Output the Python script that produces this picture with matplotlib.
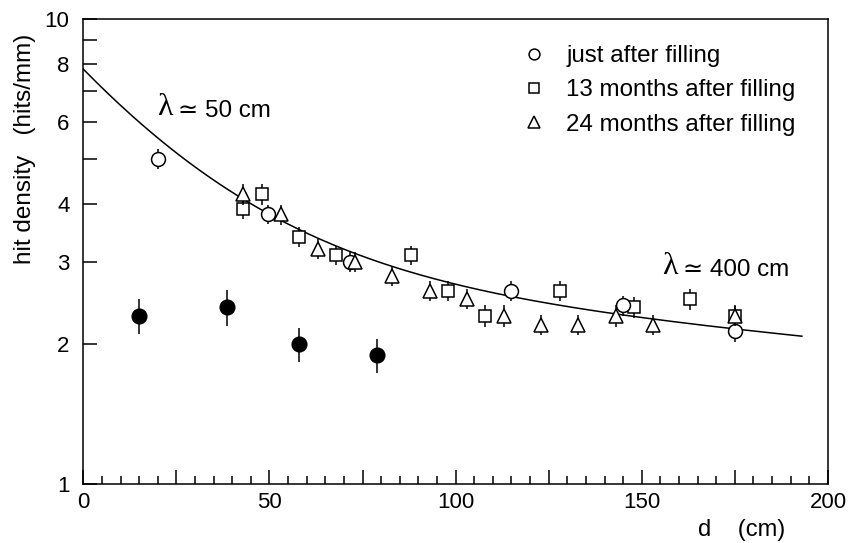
import numpy as np
import matplotlib
matplotlib.use("Agg")
import matplotlib.pyplot as plt
from matplotlib.ticker import FixedLocator, MultipleLocator, FixedFormatter, FuncFormatter

plt.rcParams['font.family'] = ['Liberation Sans', 'DejaVu Sans']

# --- data ---
# just after filling
x_fill0 = [20, 49.5, 71.5, 115, 145, 175]
y_fill0 = [5.0, 3.8, 3.0, 2.6, 2.42, 2.13]
e_fill0 = [0.25, 0.18, 0.15, 0.13, 0.12, 0.11]

# 13 months after filling
x_fill13 = [43, 48, 58, 68, 88, 98, 108, 128, 148, 163, 175]
y_fill13 = [3.9, 4.2, 3.4, 3.1, 3.1, 2.6, 2.3, 2.6, 2.4, 2.5, 2.3]
e_fill13 = [0.19, 0.21, 0.17, 0.15, 0.15, 0.13, 0.12, 0.13, 0.12, 0.13, 0.12]

# 24 months after filling
x_fill24 = [43, 53, 63, 73, 83, 93, 103, 113, 123, 133, 143, 153, 175]
y_fill24 = [4.2, 3.8, 3.2, 3.0, 2.8, 2.6, 2.5, 2.3, 2.2, 2.2, 2.3, 2.2, 2.3]
e_fill24 = [0.22, 0.19, 0.16, 0.15, 0.14, 0.13, 0.12, 0.12, 0.11, 0.11, 0.12, 0.11, 0.11]

# filled points
x_dark = [15, 38.7, 58, 78.8]
y_dark = [2.3, 2.4, 2.0, 1.89]
e_dark = [0.2, 0.21, 0.17, 0.16]

# double exponential fit: A*exp(-d/l1) + B*exp(-d/l2)
fit_A, fit_l1 = 4.96, 35.0
fit_B, fit_l2 = 2.84, 600.0

fig = plt.figure(figsize=(8.49, 5.43), dpi=100)
ax = fig.add_axes([0.0981, 0.1087, 0.8771, 0.8564])

d = np.linspace(0, 193, 300)
ax.plot(d, fit_A * np.exp(-d / fit_l1) + fit_B * np.exp(-d / fit_l2), color='black', lw=1.1, zorder=2)

eb = dict(ls='none', ecolor='black', elinewidth=1.1, capsize=0, mec='black', mew=1.1)
h13 = ax.errorbar(x_fill13, y_fill13, yerr=e_fill13, fmt='s', ms=9, mfc='white', zorder=3, **eb)
h0 = ax.errorbar(x_fill0, y_fill0, yerr=e_fill0, fmt='o', ms=10, mfc='white', zorder=4, **eb)
h24 = ax.errorbar(x_fill24, y_fill24, yerr=e_fill24, fmt='^', ms=10.5, mfc='white', zorder=5, **eb)
ax.errorbar(x_dark, y_dark, yerr=e_dark, fmt='o', ms=10.5, mfc='black', zorder=6, **eb)

ax.set_yscale('log')
ax.set_xlim(0, 200)
ax.set_ylim(1, 10)

ax.xaxis.set_major_locator(MultipleLocator(25))
ax.xaxis.set_minor_locator(MultipleLocator(5))
ax.xaxis.set_major_formatter(FuncFormatter(lambda v, p: f"{v:.0f}" if v % 50 == 0 else ""))

yt = [1, 2, 3, 4, 5, 6, 7, 8, 9, 10]
ax.yaxis.set_major_locator(FixedLocator(yt))
ax.yaxis.set_minor_locator(FixedLocator([]))
ax.yaxis.set_major_formatter(FixedFormatter(['1', '2', '3', '4', '', '6', '', '8', '', '10']))

ax.tick_params(axis='x', which='major', direction='in', length=10, width=1.1, labelsize=16, pad=6, top=False)
ax.tick_params(axis='x', which='minor', direction='in', length=6, width=1.1, top=False)
ax.tick_params(axis='y', which='major', direction='in', length=10, width=1.1, labelsize=16, pad=10, right=False)
for s in ax.spines.values():
    s.set_linewidth(1.1)

ax.legend([h0[0], h13[0], h24[0]],
          ['just after filling', '13 months after filling', '24 months after filling'],
          frameon=False, loc='upper right', bbox_to_anchor=(0.986, 0.99), fontsize=17.4,
          handlelength=1.0, handletextpad=0.85, labelspacing=0.5, markerscale=0.78,
          borderpad=0.4)

# lambda annotations
ax.text(22, 6.44, 'λ', family='Liberation Serif', fontsize=23, ha='center', va='center')
ax.text(25.4, 6.34, '≃ 50 cm', fontsize=17.4, ha='left', va='center')
ax.text(157.6, 2.94, 'λ', family='Liberation Serif', fontsize=23, ha='center', va='center')
ax.text(161.2, 2.89, '≃ 400 cm', fontsize=17.4, ha='left', va='center')

fig.text(0.0295, 0.7265, 'hit density   (hits/mm)', rotation=90, ha='center', va='center', fontsize=17.5)
fig.text(0.874, 0.024, 'd    (cm)', ha='center', va='center', fontsize=17)

fig.savefig('out.png', dpi=100)
